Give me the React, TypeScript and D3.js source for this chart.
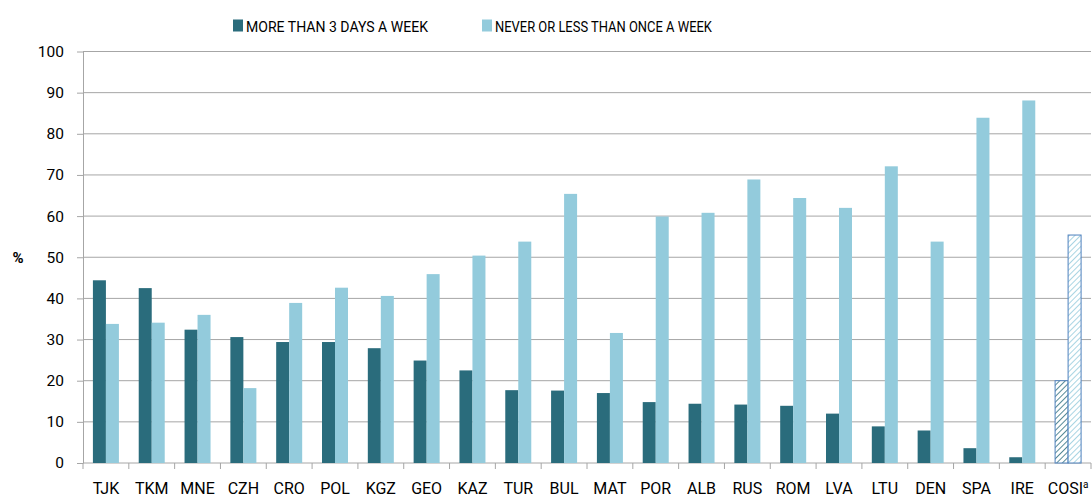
import React, { useEffect, useRef } from 'react';
import * as d3 from 'd3';

const countries = ['TJK', 'TKM', 'MNE', 'CZH', 'CRO', 'POL', 'KGZ', 'GEO', 'KAZ', 'TUR', 'BUL', 'MAT', 'POR', 'ALB', 'RUS', 'ROM', 'LVA', 'LTU', 'DEN', 'SPA', 'IRE', 'COSI'];
const moreThan3 = [44.4, 42.5, 32.4, 30.6, 29.4, 29.4, 27.9, 24.9, 22.5, 17.7, 17.6, 17.0, 14.8, 14.4, 14.2, 13.9, 12.0, 8.9, 7.9, 3.6, 1.4, 20.0];
const neverOrLess = [33.8, 34.1, 36.0, 18.2, 38.9, 42.6, 40.6, 45.9, 50.4, 53.8, 65.4, 31.6, 59.9, 60.8, 68.9, 64.4, 62.0, 72.1, 53.8, 83.9, 88.1, 55.4];
const seriesNames = ['MORE THAN 3 DAYS A WEEK', 'NEVER OR LESS THAN ONCE A WEEK'];
const yTicks = [0, 10, 20, 30, 40, 50, 60, 70, 80, 90, 100];

const DARK = '#2a6c7c';
const LIGHT = '#93cbdc';
const FONT = 'Roboto, sans-serif';

const App = () => {
  const ref = useRef<SVGSVGElement>(null);

  useEffect(() => {
    const svg = d3.select(ref.current);
    svg.selectAll('*').remove();

    const left = 83, right = 1091, top = 51.5, bottom = 463;

    const x = d3.scaleBand().domain(countries).range([left, right]).padding(0);
    const y = d3.scaleLinear().domain([0, 100]).range([bottom, top]);
    const sub = d3.scaleBand().domain(['a', 'b']).range([0, 26]);
    const groupOffset = (x.bandwidth() - 26) / 2;

    // hatch patterns for the COSI bars
    const defs = svg.append('defs');
    const mkPattern = (id: string, color: string) => {
      const p = defs.append('pattern')
        .attr('id', id)
        .attr('patternUnits', 'userSpaceOnUse')
        .attr('width', 4)
        .attr('height', 4)
        .attr('patternTransform', 'rotate(45)');
      p.append('rect').attr('width', 4).attr('height', 4).attr('fill', 'white');
      p.append('line').attr('x1', 0).attr('y1', 0).attr('x2', 0).attr('y2', 4)
        .attr('stroke', color).attr('stroke-width', 1.6);
    };
    mkPattern('hatchDark', DARK);
    mkPattern('hatchLight', LIGHT);

    // grid
    svg.append('g')
      .selectAll('line')
      .data(yTicks.filter((d) => d > 0))
      .join('line')
      .attr('x1', left)
      .attr('x2', right)
      .attr('y1', (d) => y(d))
      .attr('y2', (d) => y(d))
      .attr('stroke', '#a6a6a6')
      .attr('stroke-width', 1);

    // y axis
    const yAxis = d3.axisLeft(y).tickValues(yTicks).tickSize(6).tickSizeOuter(0);
    const gy = svg.append('g').attr('transform', `translate(${left},0)`).call(yAxis);
    gy.select('.domain').attr('stroke', '#a6a6a6');
    gy.selectAll('.tick line').attr('stroke', '#a6a6a6');
    gy.selectAll('.tick text')
      .attr('x', -19)
      .style('font-family', FONT)
      .style('font-size', '15.5px')
      .attr('fill', '#000');

    // x axis
    const gx = svg.append('g').attr('transform', `translate(0,${bottom})`);
    gx.append('line').attr('x1', left).attr('x2', right).attr('stroke', '#a6a6a6');
    gx.selectAll('.tk')
      .data([...countries.map((c) => x(c) as number), right])
      .join('line')
      .attr('class', 'tk')
      .attr('x1', (d) => d)
      .attr('x2', (d) => d)
      .attr('y1', 0)
      .attr('y2', 6)
      .attr('stroke', '#a6a6a6');
    gx.selectAll('text')
      .data(countries)
      .join('text')
      .attr('x', (d) => (x(d) as number) + x.bandwidth() / 2)
      .attr('y', 30.5)
      .attr('text-anchor', 'middle')
      .style('font-family', FONT)
      .style('font-size', '16px')
      .attr('fill', '#000')
      .each(function (d) {
        const t = d3.select(this);
        if (d === 'COSI') {
          t.text('COSI');
          t.append('tspan').attr('font-size', '10px').attr('dy', -6).text('a');
        } else {
          t.text(d);
        }
      });

    // bars
    const groups = svg.append('g')
      .selectAll('g')
      .data(countries)
      .join('g')
      .attr('transform', (d) => `translate(${(x(d) as number) + groupOffset},0)`);

    groups.append('rect')
      .attr('x', sub('a') as number)
      .attr('width', sub.bandwidth())
      .attr('y', (d, i) => y(moreThan3[i]))
      .attr('height', (d, i) => bottom - y(moreThan3[i]))
      .attr('fill', (d) => (d === 'COSI' ? 'url(#hatchDark)' : DARK))
      .attr('stroke', (d) => (d === 'COSI' ? '#4f81bd' : 'none'))
      .attr('stroke-width', 1);

    groups.append('rect')
      .attr('x', sub('b') as number)
      .attr('width', sub.bandwidth())
      .attr('y', (d, i) => y(neverOrLess[i]))
      .attr('height', (d, i) => bottom - y(neverOrLess[i]))
      .attr('fill', (d) => (d === 'COSI' ? 'url(#hatchLight)' : LIGHT))
      .attr('stroke', (d) => (d === 'COSI' ? '#4f81bd' : 'none'))
      .attr('stroke-width', 1);

    // % label
    svg.append('text')
      .attr('x', 18)
      .attr('y', 263)
      .attr('text-anchor', 'middle')
      .style('font-family', FONT)
      .style('font-size', '15px')
      .style('font-weight', 'bold')
      .text('%');

    // legend
    const legendX = [233, 482];
    const lg = svg.append('g');
    seriesNames.forEach((name, i) => {
      lg.append('rect')
        .attr('x', legendX[i])
        .attr('y', 19.5)
        .attr('width', 10)
        .attr('height', 12)
        .attr('fill', i === 0 ? DARK : LIGHT);
      lg.append('text')
        .attr('x', legendX[i] + 13)
        .attr('y', 31.5)
        .style('font-family', FONT)
        .style('font-size', '15px')
        .attr('textLength', i === 0 ? 182 : 217)
        .attr('lengthAdjust', 'spacingAndGlyphs')
        .text(name);
    });
  }, []);

  return (
    <svg
      ref={ref}
      width={1092}
      height={497}
      style={{ position: 'absolute', left: 0, top: 0, background: '#fff' }}
    />
  );
};

export default App;
